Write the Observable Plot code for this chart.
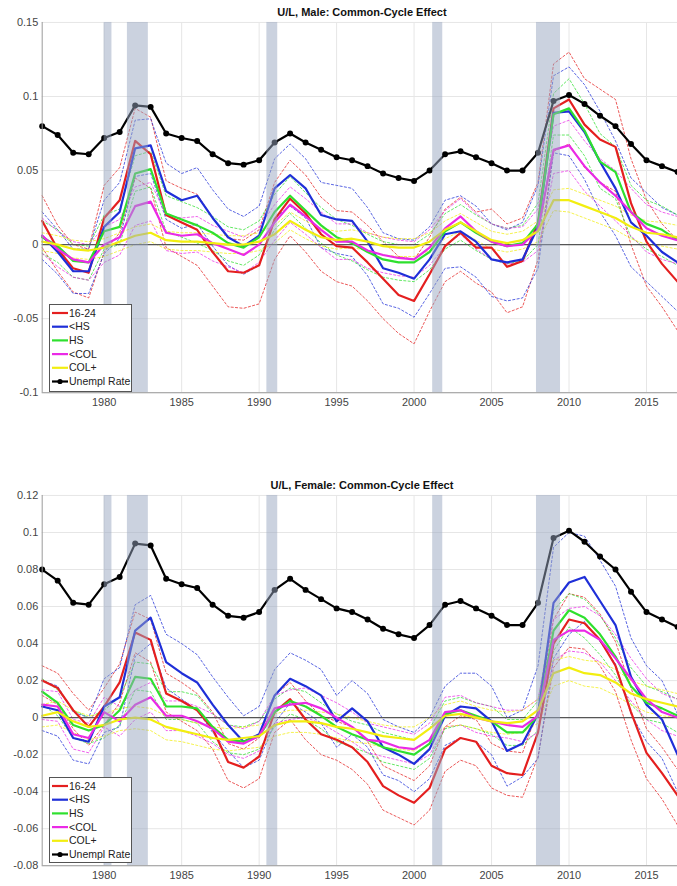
<!DOCTYPE html>
<html><head><meta charset="utf-8">
<script src="https://cdn.jsdelivr.net/npm/d3@7"></script>
<script src="https://cdn.jsdelivr.net/npm/@observablehq/plot@0.6"></script>
<style>
html,body{margin:0;padding:0;background:#fff;overflow:hidden;width:677px;height:886px;}
#root{position:relative;width:677px;height:886px;overflow:hidden;font-family:"Liberation Sans",Arial,Helvetica,sans-serif;}
.title{position:absolute;left:42px;width:640px;text-align:center;font-weight:bold;font-size:11px;color:#111;line-height:14px;}
.panel{position:absolute;left:0;}
.legend{position:absolute;left:49px;width:83px;border:1px solid #555;background:#fff;box-sizing:border-box;}
.legend svg{display:block;}
</style></head><body><div id="root"></div><script>
// ---------- data ----------
const years = [1976,1977,1978,1979,1980,1981,1982,1983,1984,1985,
  1986,1987,1988,1989,1990,1991,1992,1993,1994,1995,
  1996,1997,1998,1999,2000,2001,2002,2003,2004,2005,
  2006,2007,2008,2009,2010,2011,2012,2013,2014,2015,
  2016,2017];
const xTicks = [1980,1985,1990,1995,2000,2005,2010,2015];
const yTicksMale = [-0.1,-0.05,0,0.05,0.1,0.15];
const yTicksFemale = [-0.08,-0.06,-0.04,-0.02,0,0.02,0.04,0.06,0.08,0.1,0.12];
const recStart = [1980.0, 1981.5, 1990.5, 2001.2, 2007.9];
const recEnd   = [1980.5, 1982.85, 1991.2, 2001.85, 2009.45];
const seriesNames = ["16-24","<HS","HS","<COL","COL+"];
const seriesColors = ["#e41f1f","#1f2fd8","#2ee02e","#ea2ae6","#f2ee10"];

const unemp = [0.080,0.074,0.062,0.061,0.072,0.076,0.094,0.093,0.075,0.072,
  0.070,0.061,0.055,0.054,0.057,0.069,0.075,0.069,0.064,0.059,
  0.057,0.053,0.048,0.045,0.043,0.050,0.061,0.063,0.059,0.055,
  0.050,0.050,0.062,0.097,0.101,0.095,0.087,0.080,0.068,0.057,
  0.053,0.049];

// Male
const mRed = [0.016,-0.003,-0.016,-0.019,0.018,0.030,0.070,0.061,0.020,0.015,
  0.010,-0.005,-0.018,-0.019,-0.014,0.017,0.031,0.021,0.007,-0.001,
  -0.002,-0.012,-0.023,-0.034,-0.038,-0.020,-0.001,0.008,-0.002,-0.002,
  -0.015,-0.011,0.015,0.092,0.098,0.081,0.071,0.066,0.028,0.002,
  -0.013,-0.025];
const mRedLo = [-0.002,-0.018,-0.032,-0.036,-0.005,0.008,0.045,0.038,-0.002,-0.008,
  -0.014,-0.028,-0.042,-0.043,-0.040,-0.010,0.006,-0.005,-0.018,-0.025,
  -0.028,-0.038,-0.050,-0.060,-0.067,-0.045,-0.025,-0.018,-0.026,-0.032,
  -0.046,-0.042,-0.010,0.063,0.068,0.052,0.042,0.036,0.000,-0.028,
  -0.042,-0.058];
const mRedHi = [0.033,0.013,0.000,-0.003,0.040,0.052,0.092,0.086,0.043,0.038,
  0.034,0.018,0.004,0.003,0.010,0.042,0.057,0.047,0.032,0.023,
  0.022,0.013,0.002,-0.008,-0.010,0.005,0.024,0.032,0.022,0.024,
  0.014,0.018,0.042,0.122,0.130,0.112,0.105,0.098,0.058,0.030,
  0.014,0.003];
const mBlue = [0.006,-0.005,-0.018,-0.018,0.012,0.022,0.065,0.067,0.036,0.030,
  0.033,0.018,0.005,-0.001,0.006,0.038,0.047,0.038,0.020,0.017,
  0.016,0.002,-0.016,-0.019,-0.023,-0.010,0.007,0.009,0.002,-0.010,
  -0.012,-0.010,0.012,0.089,0.090,0.076,0.056,0.038,0.015,0.006,
  -0.005,-0.012];
const mBlueLo = [-0.010,-0.020,-0.033,-0.033,-0.006,0.004,0.046,0.048,0.017,0.011,
  0.014,-0.001,-0.014,-0.020,-0.014,0.018,0.026,0.018,-0.002,-0.006,
  -0.008,-0.021,-0.040,-0.043,-0.049,-0.033,-0.016,-0.015,-0.022,-0.035,
  -0.038,-0.036,-0.016,0.062,0.060,0.044,0.022,0.006,-0.015,-0.025,
  -0.035,-0.045];
const mBlueHi = [0.022,0.010,-0.003,-0.003,0.030,0.042,0.084,0.085,0.055,0.048,
  0.052,0.037,0.024,0.019,0.026,0.058,0.068,0.058,0.042,0.040,
  0.038,0.025,0.008,0.004,0.003,0.012,0.030,0.033,0.026,0.014,
  0.010,0.015,0.040,0.114,0.120,0.108,0.090,0.070,0.045,0.035,
  0.025,0.020];
const mGreen = [0.005,-0.001,-0.011,-0.012,0.009,0.012,0.048,0.051,0.021,0.017,
  0.013,0.008,0.001,-0.002,0.005,0.022,0.033,0.023,0.013,0.005,
  0.001,-0.005,-0.010,-0.012,-0.012,-0.005,0.009,0.015,0.008,0.002,
  -0.001,0.001,0.014,0.088,0.092,0.077,0.056,0.049,0.022,0.014,
  0.010,0.003];
const mGreenLo = [-0.006,-0.012,-0.022,-0.024,-0.003,0.000,0.036,0.039,0.009,0.005,
  0.001,-0.004,-0.011,-0.014,-0.007,0.010,0.021,0.011,0.001,-0.007,
  -0.011,-0.017,-0.022,-0.024,-0.025,-0.017,-0.003,0.003,-0.004,-0.010,
  -0.013,-0.011,0.000,0.074,0.074,0.060,0.038,0.031,0.005,-0.003,
  -0.008,-0.014];
const mGreenHi = [0.016,0.010,0.000,-0.001,0.020,0.024,0.060,0.063,0.033,0.029,
  0.025,0.019,0.012,0.010,0.016,0.034,0.046,0.035,0.025,0.017,
  0.013,0.007,0.002,0.000,0.000,0.007,0.021,0.027,0.020,0.014,
  0.011,0.013,0.028,0.102,0.112,0.095,0.075,0.066,0.040,0.030,
  0.026,0.020];
const mMag = [0.006,-0.003,-0.010,-0.012,0.000,0.005,0.026,0.029,0.008,0.006,
  0.007,0.001,-0.003,-0.007,0.000,0.015,0.027,0.019,0.010,0.002,
  0.002,-0.004,-0.007,-0.009,-0.010,-0.002,0.011,0.019,0.009,0.002,
  -0.001,0.000,0.010,0.064,0.067,0.053,0.042,0.033,0.022,0.011,
  0.006,0.003];
const mMagLo = [-0.006,-0.015,-0.022,-0.024,-0.012,-0.007,0.013,0.016,-0.004,-0.006,
  -0.005,-0.011,-0.015,-0.019,-0.012,0.003,0.015,0.007,-0.002,-0.010,
  -0.010,-0.016,-0.019,-0.021,-0.022,-0.014,-0.001,0.007,-0.003,-0.010,
  -0.013,-0.012,-0.004,0.048,0.050,0.036,0.026,0.016,0.006,-0.005,
  -0.010,-0.013];
const mMagHi = [0.018,0.009,0.002,0.000,0.012,0.017,0.039,0.042,0.020,0.018,
  0.019,0.013,0.009,0.005,0.012,0.027,0.039,0.031,0.022,0.014,
  0.014,0.008,0.005,0.003,0.002,0.010,0.023,0.031,0.021,0.014,
  0.011,0.012,0.024,0.080,0.084,0.070,0.058,0.050,0.038,0.027,
  0.022,0.019];
const mYel = [0.002,0.000,-0.003,-0.004,-0.002,0.002,0.006,0.008,0.003,0.002,
  0.002,0.001,0.000,0.000,0.002,0.007,0.016,0.010,0.005,0.003,
  0.004,0.002,-0.001,-0.002,-0.002,0.002,0.010,0.015,0.009,0.003,
  0.001,0.003,0.009,0.030,0.030,0.026,0.022,0.018,0.012,0.008,
  0.007,0.005];
const mYelLo = [-0.004,-0.006,-0.009,-0.010,-0.008,-0.004,0.000,0.002,-0.003,-0.004,
  -0.004,-0.005,-0.006,-0.006,-0.004,0.001,0.010,0.004,-0.001,-0.003,
  -0.002,-0.004,-0.007,-0.008,-0.008,-0.004,0.004,0.009,0.003,-0.003,
  -0.005,-0.003,0.002,0.023,0.022,0.018,0.014,0.010,0.004,0.000,
  -0.001,-0.003];
const mYelHi = [0.008,0.006,0.003,0.002,0.004,0.008,0.012,0.014,0.009,0.008,
  0.008,0.007,0.006,0.006,0.008,0.013,0.022,0.016,0.011,0.009,
  0.010,0.008,0.005,0.004,0.004,0.008,0.016,0.021,0.015,0.009,
  0.007,0.009,0.016,0.037,0.038,0.034,0.030,0.026,0.020,0.016,
  0.015,0.013];

// Female
const fRed = [0.020,0.016,0.004,-0.005,0.006,0.019,0.046,0.042,0.013,0.009,
  0.004,-0.006,-0.024,-0.027,-0.021,0.003,0.010,-0.001,-0.009,-0.012,
  -0.016,-0.024,-0.037,-0.042,-0.046,-0.038,-0.017,-0.011,-0.013,-0.026,
  -0.030,-0.031,-0.008,0.040,0.053,0.051,0.042,0.028,0.003,-0.019,
  -0.030,-0.042];
const fRedLo = [0.012,0.007,-0.006,-0.015,-0.004,0.008,0.035,0.030,0.003,-0.002,
  -0.007,-0.017,-0.034,-0.038,-0.033,-0.008,-0.001,-0.012,-0.020,-0.023,
  -0.028,-0.036,-0.050,-0.054,-0.058,-0.050,-0.029,-0.023,-0.026,-0.038,
  -0.042,-0.043,-0.021,0.027,0.038,0.037,0.028,0.014,-0.012,-0.033,
  -0.044,-0.058];
const fRedHi = [0.028,0.024,0.013,0.004,0.016,0.029,0.057,0.053,0.024,0.019,
  0.013,0.003,-0.014,-0.017,-0.011,0.012,0.019,0.009,0.001,-0.002,
  -0.005,-0.013,-0.026,-0.030,-0.034,-0.026,-0.005,0.001,-0.001,-0.014,
  -0.018,-0.019,0.004,0.053,0.067,0.065,0.056,0.041,0.016,-0.006,
  -0.016,-0.028];
const fBlue = [0.006,0.004,-0.011,-0.013,0.006,0.011,0.047,0.054,0.030,0.024,
  0.019,0.007,-0.004,-0.013,-0.009,0.012,0.021,0.017,0.012,-0.002,
  0.005,-0.002,-0.016,-0.020,-0.025,-0.017,0.001,0.006,0.005,-0.002,
  -0.018,-0.014,0.002,0.062,0.073,0.076,0.063,0.050,0.022,0.007,
  -0.001,-0.020];
const fBlueLo = [-0.007,-0.010,-0.023,-0.025,-0.008,-0.005,0.033,0.040,0.016,0.010,
  0.004,-0.008,-0.018,-0.027,-0.023,-0.003,0.008,0.003,-0.003,-0.016,
  -0.009,-0.016,-0.031,-0.034,-0.040,-0.033,-0.015,-0.011,-0.013,-0.020,
  -0.037,-0.032,-0.022,0.032,0.045,0.052,0.041,0.029,0.002,-0.013,
  -0.022,-0.040];
const fBlueHi = [0.020,0.017,0.003,0.000,0.021,0.027,0.061,0.066,0.045,0.040,
  0.034,0.022,0.011,0.001,0.006,0.026,0.035,0.031,0.026,0.012,
  0.020,0.013,-0.001,-0.005,-0.008,0.000,0.017,0.024,0.024,0.017,
  0.000,0.004,0.028,0.092,0.100,0.098,0.085,0.071,0.043,0.028,
  0.020,0.002];
const fGreen = [0.014,0.008,-0.004,-0.007,-0.004,0.004,0.022,0.021,0.006,0.006,
  0.005,-0.005,-0.012,-0.013,-0.010,0.003,0.009,0.006,0.001,-0.005,
  -0.009,-0.012,-0.016,-0.018,-0.020,-0.014,0.002,0.004,0.001,-0.002,
  -0.008,-0.008,0.001,0.047,0.058,0.054,0.045,0.033,0.017,0.008,
  0.005,0.001];
const fGreenLo = [0.007,0.001,-0.011,-0.014,-0.011,-0.004,0.015,0.014,-0.001,-0.001,
  -0.003,-0.013,-0.019,-0.020,-0.017,-0.005,0.002,-0.001,-0.006,-0.013,
  -0.016,-0.019,-0.024,-0.026,-0.028,-0.022,-0.006,-0.004,-0.006,-0.009,
  -0.015,-0.015,-0.007,0.036,0.049,0.043,0.034,0.023,0.007,-0.001,
  -0.003,-0.008];
const fGreenHi = [0.021,0.015,0.004,0.000,0.004,0.011,0.030,0.029,0.014,0.014,
  0.012,0.002,-0.004,-0.005,-0.002,0.010,0.016,0.014,0.008,0.002,
  -0.002,-0.004,-0.008,-0.010,-0.012,-0.006,0.009,0.011,0.008,0.006,
  -0.001,-0.001,0.009,0.058,0.067,0.064,0.055,0.043,0.027,0.017,
  0.014,0.010];
const fMag = [0.007,0.006,-0.009,-0.011,0.003,-0.002,0.007,0.011,0.001,0.001,
  -0.002,-0.006,-0.013,-0.014,-0.010,0.005,0.007,0.008,0.005,0.000,
  -0.005,-0.012,-0.013,-0.016,-0.017,-0.012,0.003,0.004,0.000,-0.002,
  -0.004,-0.005,0.001,0.042,0.047,0.047,0.042,0.032,0.021,0.010,
  0.003,0.000];
const fMagLo = [-0.001,-0.002,-0.017,-0.019,-0.005,-0.010,-0.001,0.003,-0.007,-0.007,
  -0.010,-0.014,-0.020,-0.022,-0.018,-0.003,-0.001,0.000,-0.003,-0.008,
  -0.013,-0.019,-0.021,-0.023,-0.025,-0.020,-0.005,-0.004,-0.008,-0.010,
  -0.011,-0.013,-0.008,0.031,0.036,0.035,0.030,0.020,0.009,-0.001,
  -0.007,-0.010];
const fMagHi = [0.015,0.014,-0.001,-0.003,0.011,0.006,0.015,0.019,0.009,0.009,
  0.006,0.002,-0.004,-0.006,-0.002,0.012,0.015,0.016,0.012,0.008,
  0.003,-0.003,-0.005,-0.007,-0.009,-0.003,0.011,0.012,0.008,0.006,
  0.004,0.004,0.010,0.053,0.059,0.060,0.055,0.045,0.032,0.021,
  0.013,0.010];
const fYel = [0.001,0.003,-0.002,-0.005,-0.004,-0.001,0.000,-0.001,-0.005,-0.007,
  -0.009,-0.011,-0.012,-0.011,-0.010,-0.004,-0.002,-0.002,-0.003,-0.005,
  -0.006,-0.008,-0.010,-0.011,-0.012,-0.006,0.001,0.002,0.000,-0.002,
  -0.003,-0.002,0.004,0.024,0.027,0.024,0.023,0.019,0.013,0.010,
  0.008,0.006];
const fYelLo = [-0.005,-0.004,-0.008,-0.012,-0.010,-0.007,-0.006,-0.007,-0.012,-0.013,
  -0.015,-0.017,-0.018,-0.017,-0.016,-0.010,-0.008,-0.008,-0.009,-0.011,
  -0.013,-0.014,-0.016,-0.017,-0.018,-0.012,-0.005,-0.004,-0.006,-0.008,
  -0.009,-0.008,-0.003,0.017,0.020,0.017,0.016,0.012,0.007,0.003,
  0.001,0.000];
const fYelHi = [0.007,0.009,0.004,0.001,0.002,0.005,0.006,0.005,0.001,-0.001,
  -0.003,-0.005,-0.006,-0.005,-0.004,0.002,0.004,0.004,0.003,0.002,
  0.000,-0.002,-0.004,-0.005,-0.005,0.000,0.007,0.009,0.006,0.004,
  0.003,0.004,0.010,0.031,0.033,0.031,0.030,0.026,0.020,0.017,
  0.015,0.013];

// ---------- drawing ----------
const toRows = arr => years.map((year, i) => ({year, v: arr[i]}));
const recessions = recStart.map((s, i) => ({start: s, end: recEnd[i]}));

function makePanel({title, titleTop, svgTop, yDomain, yTicks, est, lo, hi, legendTop, legendH}) {
  const root = document.getElementById("root");
  const t = document.createElement("div");
  t.className = "title"; t.style.top = titleTop + "px"; t.textContent = title;
  root.appendChild(t);

  const marks = [
    Plot.ruleX(xTicks, {stroke: "#e6e6e6"}),
    Plot.ruleY(yTicks, {stroke: "#e6e6e6"})
  ];
  est.forEach((_, k) => {
    marks.push(Plot.line(toRows(lo[k]), {x: "year", y: "v", stroke: seriesColors[k], strokeWidth: 1, strokeDasharray: "2.2,2.2", strokeOpacity: 0.75}));
    marks.push(Plot.line(toRows(hi[k]), {x: "year", y: "v", stroke: seriesColors[k], strokeWidth: 1, strokeDasharray: "2.2,2.2", strokeOpacity: 0.75}));
  });
  marks.push(Plot.ruleY([0], {stroke: "#555", strokeWidth: 1.2}));
  est.forEach((arr, k) => {
    marks.push(Plot.line(toRows(arr), {x: "year", y: "v", stroke: seriesColors[k], strokeWidth: 2.2}));
  });
  marks.push(Plot.line(toRows(unemp), {x: "year", y: "v", stroke: "#000", strokeWidth: 2.2}));
  marks.push(Plot.dot(toRows(unemp), {x: "year", y: "v", fill: "#000", r: 3}));
  marks.push(Plot.rect(recessions, {x1: "start", x2: "end", fill: "#98a6c0", fillOpacity: 0.5}));
  marks.push(Plot.ruleX([years[0]], {stroke: "#9a9a9a"}));
  marks.push(Plot.ruleY([yDomain[0]], {stroke: "#9a9a9a"}));

  const svg = Plot.plot({
    width: 682, height: 402,
    marginLeft: 42, marginRight: 0, marginTop: 4, marginBottom: 25,
    x: {domain: [years[0], years[years.length - 1]], ticks: xTicks, tickFormat: d => String(d), tickSize: 0, tickPadding: 6, label: null},
    y: {domain: yDomain, ticks: yTicks, tickFormat: d => String(d), tickSize: 0, tickPadding: 4, label: null},
    style: {fontSize: "11px", fontFamily: "'Liberation Sans', Arial, Helvetica, sans-serif", color: "#444", background: "transparent", overflow: "visible"},
    marks
  });
  const wrap = document.createElement("div");
  wrap.className = "panel"; wrap.style.top = svgTop + "px";
  wrap.appendChild(svg);
  root.appendChild(wrap);

  // legend
  const lg = document.createElement("div");
  lg.className = "legend"; lg.style.top = legendTop + "px"; lg.style.height = legendH + "px";
  const labels = [...seriesNames, "Unempl Rate"];
  const colors = [...seriesColors, "#000"];
  let s = `<svg width="83" height="${legendH - 2}" xmlns="http://www.w3.org/2000/svg" style="font-family:'Liberation Sans',Arial,sans-serif;font-size:10.5px;">`;
  labels.forEach((lab, i) => {
    const y = 8 + i * 13.7;
    s += `<line x1="2" x2="18" y1="${y}" y2="${y}" stroke="${colors[i]}" stroke-width="2.2"/>`;
    if (i === labels.length - 1) s += `<circle cx="10" cy="${y}" r="2.6" fill="#000"/>`;
    s += `<text x="19" y="${y}" dy="0.35em" fill="#222">${lab.replace("<", "&lt;")}</text>`;
  });
  s += `</svg>`;
  lg.innerHTML = s;
  root.appendChild(lg);
}

makePanel({
  title: "U/L, Male: Common-Cycle Effect", titleTop: 5, svgTop: 18,
  yDomain: [yTicksMale[0], yTicksMale[yTicksMale.length - 1]], yTicks: yTicksMale,
  est: [mRed, mBlue, mGreen, mMag, mYel],
  lo: [mRedLo, mBlueLo, mGreenLo, mMagLo, mYelLo],
  hi: [mRedHi, mBlueHi, mGreenHi, mMagHi, mYelHi],
  legendTop: 304, legendH: 88
});
makePanel({
  title: "U/L, Female: Common-Cycle Effect", titleTop: 478, svgTop: 491,
  yDomain: [yTicksFemale[0], yTicksFemale[yTicksFemale.length - 1]], yTicks: yTicksFemale,
  est: [fRed, fBlue, fGreen, fMag, fYel],
  lo: [fRedLo, fBlueLo, fGreenLo, fMagLo, fYelLo],
  hi: [fRedHi, fBlueHi, fGreenHi, fMagHi, fYelHi],
  legendTop: 777, legendH: 86
});
</script></body></html>
